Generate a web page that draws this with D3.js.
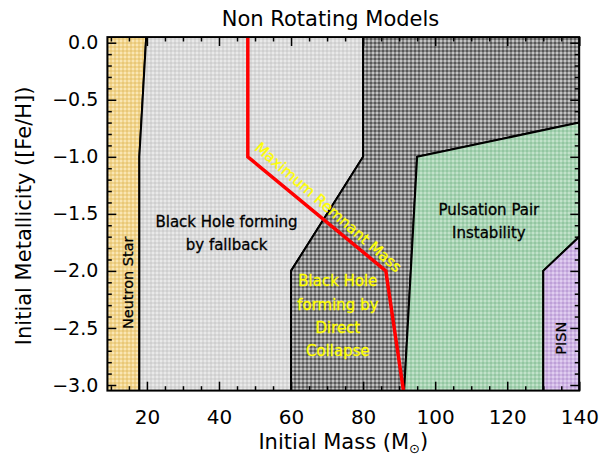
<!DOCTYPE html>
<html>
<head>
<meta charset="utf-8">
<script src="https://cdn.jsdelivr.net/npm/d3@7"></script>
<style>
  html, body { margin: 0; padding: 0; background: #fff; }
  svg { display: block; }
  text { font-family: "DejaVu Sans", sans-serif; }
</style>
</head>
<body>
<svg id="chart" width="600" height="456"></svg>
<script>
// Axis ranges: initial mass (Msun) and initial metallicity [Fe/H]
const massRange = [9, 140];
const fehRange = [-3.05, 0.05];
const massMajorTicks = [20, 40, 60, 80, 100, 120, 140];
const massMinorTicks = [10, 15, 25, 30, 35, 45, 50, 55, 65, 70, 75, 85, 90, 95, 105, 110, 115, 125, 130, 135];
const fehMajorTicks = [0.0, -0.5, -1.0, -1.5, -2.0, -2.5, -3.0];
const fehMinorTicks = [-0.1, -0.2, -0.3, -0.4, -0.6, -0.7, -0.8, -0.9, -1.1, -1.2, -1.3, -1.4,
                       -1.6, -1.7, -1.8, -1.9, -2.1, -2.2, -2.3, -2.4, -2.6, -2.7, -2.8, -2.9];

// Remnant regions as [mass, [Fe/H]] polygons
const neutronStar = [[9, 0.05], [19.8, 0.05], [17.9, -1.0], [17.9, -3.05], [9, -3.05]];
const bhFallback = [[19.8, 0.05], [80, 0.05], [80, -1.0], [60, -2.0], [60, -3.05], [17.9, -3.05], [17.9, -1.0]];
const bhDirect = [[80, 0.05], [140, 0.05], [140, -0.7], [95, -1.0], [91.4, -3.05], [60, -3.05], [60, -2.0], [80, -1.0]];
const pulsationPair = [[95, -1.0], [140, -0.7], [140, -1.7], [130, -2.0], [130, -3.05], [91.4, -3.05]];
const pisn = [[130, -2.0], [140, -1.7], [140, -3.05], [130, -3.05]];

// Maximum remnant mass track
const maxRemnant = [[48, 0.05], [48, -1.0], [86.3, -2.0], [91.2, -3.05]];

// Region labels: lines, anchor [mass, [Fe/H]] of each line centre
const regionLabels = [
  { lines: ["Black Hole forming", "by fallback"], at: [[42.1, -1.569], [42.1, -1.771]], color: "#000" },
  { lines: ["Pulsation Pair", "Instability"], at: [[114.9, -1.461], [114.9, -1.668]], color: "#000" },
  { lines: ["Black Hole", "forming by", "Direct", "Collapse"],
    at: [[73.0, -2.086], [73.0, -2.299], [73.0, -2.500], [73.0, -2.702]], color: "#ffff00" }
];
const verticalLabels = [
  { text: "Neutron Star", at: [14.8, -2.104] },
  { text: "PISN", at: [134.9, -2.59] }
];
const trackLabel = { text: "Maximum Remnant Mass", at: [70.4, -1.44] };

const svg = d3.select("#chart");
const plotL = 107.3, plotR = 579.3, plotT = 37, plotB = 390.7;

const x = d3.scaleLinear().domain(massRange).range([plotL, plotR]);
const y = d3.scaleLinear().domain(fehRange).range([plotB, plotT]);

// Dithered fills
const defs = svg.append("defs");
function dither(id, base, a, b) {
  const p = defs.append("pattern").attr("id", id)
    .attr("patternUnits", "userSpaceOnUse").attr("width", 4).attr("height", 4);
  p.append("rect").attr("width", 4).attr("height", 4).attr("fill", base);
  p.append("rect").attr("width", 2).attr("height", 2).attr("fill", a);
  p.append("rect").attr("x", 2).attr("y", 2).attr("width", 2).attr("height", 2).attr("fill", b);
}
dither("fillNS", "#f1d48d", "#f9e6b4", "#e8c878");
dither("fillFB", "#dadada", "#e9e9e9", "#cfcfcf");
dither("fillDC", "#8a8a8a", "#c4c4c4", "#585858");
dither("fillPP", "#a7d3b3", "#c2e2ca", "#93c6a1");
dither("fillPI", "#cfb6e4", "#e0cdf0", "#bea0d8");

defs.append("clipPath").attr("id", "plotClip")
  .append("rect").attr("x", plotL).attr("y", plotT)
  .attr("width", plotR - plotL).attr("height", plotB - plotT);

const line = d3.line().x(d => x(d[0])).y(d => y(d[1]));
const area = svg.append("g").attr("clip-path", "url(#plotClip)");

[[neutronStar, "fillNS"], [bhFallback, "fillFB"], [bhDirect, "fillDC"],
 [pulsationPair, "fillPP"], [pisn, "fillPI"]].forEach(([poly, fill]) => {
  area.append("path")
    .attr("d", line(poly) + "Z")
    .attr("fill", `url(#${fill})`)
    .attr("stroke", "#000")
    .attr("stroke-width", 2)
    .attr("stroke-linejoin", "miter");
});

// Region labels
regionLabels.forEach(lbl => {
  lbl.lines.forEach((t, i) => {
    area.append("text")
      .attr("x", x(lbl.at[i][0])).attr("y", y(lbl.at[i][1]))
      .attr("dy", "0.36em")
      .attr("text-anchor", "middle")
      .attr("font-size", 15)
      .attr("fill", lbl.color)
      .attr("stroke", lbl.color).attr("stroke-width", 0.3)
      .text(t);
  });
});
verticalLabels.forEach(lbl => {
  const px = x(lbl.at[0]), py = y(lbl.at[1]);
  area.append("text")
    .attr("transform", `translate(${px},${py}) rotate(-90)`)
    .attr("dy", "0.36em")
    .attr("text-anchor", "middle")
    .attr("font-size", 14.5)
    .attr("fill", "#000")
    .attr("stroke", "#000").attr("stroke-width", 0.3)
    .text(lbl.text);
});

// Maximum remnant mass track
area.append("path")
  .attr("d", line(maxRemnant))
  .attr("fill", "none")
  .attr("stroke", "#ff0000")
  .attr("stroke-width", 3.5)
  .attr("stroke-linejoin", "miter");

area.append("text")
  .attr("transform", `translate(${x(trackLabel.at[0])},${y(trackLabel.at[1])}) rotate(41)`)
  .attr("dy", "0.36em")
  .attr("text-anchor", "middle")
  .attr("font-size", 15)
  .attr("fill", "#ffff00")
  .attr("stroke", "#ffff00").attr("stroke-width", 0.3)
  .text(trackLabel.text);

// Axes with inward ticks on all four sides
const fmt = d3.format(".1f");
function styleAxis(g) {
  g.select(".domain").remove();
  g.selectAll(".tick line").attr("stroke", "#000").attr("stroke-width", 1.5);
  g.selectAll("text").attr("font-family", "DejaVu Sans, sans-serif").attr("fill", "#000");
}

svg.append("g").attr("transform", `translate(0,${plotB})`)
  .call(d3.axisBottom(x).tickValues(massMajorTicks).tickSizeInner(-9).tickSizeOuter(0).tickPadding(19))
  .call(styleAxis).call(g => g.selectAll("text").attr("font-size", 20));
svg.append("g").attr("transform", `translate(0,${plotB})`)
  .call(d3.axisBottom(x).tickValues(massMinorTicks).tickSizeInner(-4.5).tickSizeOuter(0).tickFormat(""))
  .call(styleAxis);
svg.append("g").attr("transform", `translate(0,${plotT})`)
  .call(d3.axisTop(x).tickValues(massMajorTicks).tickSizeInner(-9).tickSizeOuter(0).tickFormat(""))
  .call(styleAxis);
svg.append("g").attr("transform", `translate(0,${plotT})`)
  .call(d3.axisTop(x).tickValues(massMinorTicks).tickSizeInner(-4.5).tickSizeOuter(0).tickFormat(""))
  .call(styleAxis);

svg.append("g").attr("transform", `translate(${plotL},0)`)
  .call(d3.axisLeft(y).tickValues(fehMajorTicks).tickSizeInner(-9).tickSizeOuter(0).tickPadding(9).tickFormat(fmt))
  .call(styleAxis).call(g => g.selectAll("text").attr("font-size", 19));
svg.append("g").attr("transform", `translate(${plotL},0)`)
  .call(d3.axisLeft(y).tickValues(fehMinorTicks).tickSizeInner(-4.5).tickSizeOuter(0).tickFormat(""))
  .call(styleAxis);
svg.append("g").attr("transform", `translate(${plotR},0)`)
  .call(d3.axisRight(y).tickValues(fehMajorTicks).tickSizeInner(-9).tickSizeOuter(0).tickFormat(""))
  .call(styleAxis);
svg.append("g").attr("transform", `translate(${plotR},0)`)
  .call(d3.axisRight(y).tickValues(fehMinorTicks).tickSizeInner(-4.5).tickSizeOuter(0).tickFormat(""))
  .call(styleAxis);

// Frame
svg.append("rect")
  .attr("x", plotL).attr("y", plotT)
  .attr("width", plotR - plotL).attr("height", plotB - plotT)
  .attr("fill", "none").attr("stroke", "#000").attr("stroke-width", 1.8);

// Titles
svg.append("text")
  .attr("x", 330.5).attr("y", 18.5).attr("dy", "0.36em")
  .attr("text-anchor", "middle").attr("font-size", 21)
  .text("Non Rotating Models");

const xTitle = svg.append("text")
  .attr("x", (plotL + plotR) / 2).attr("y", 441).attr("dy", "0.36em")
  .attr("text-anchor", "middle").attr("font-size", 21);
xTitle.append("tspan").text("Initial Mass (M");
xTitle.append("tspan").attr("font-size", 13).attr("dy", "0.35em").text("\u2299");
xTitle.append("tspan").attr("dy", "-0.25em").text(")");

svg.append("text")
  .attr("transform", `translate(23,${(plotT + plotB) / 2 + 2}) rotate(-90)`)
  .attr("dy", "0.36em")
  .attr("text-anchor", "middle").attr("font-size", 21)
  .text("Initial Metallicity ([Fe/H])");
</script>
</body>
</html>
